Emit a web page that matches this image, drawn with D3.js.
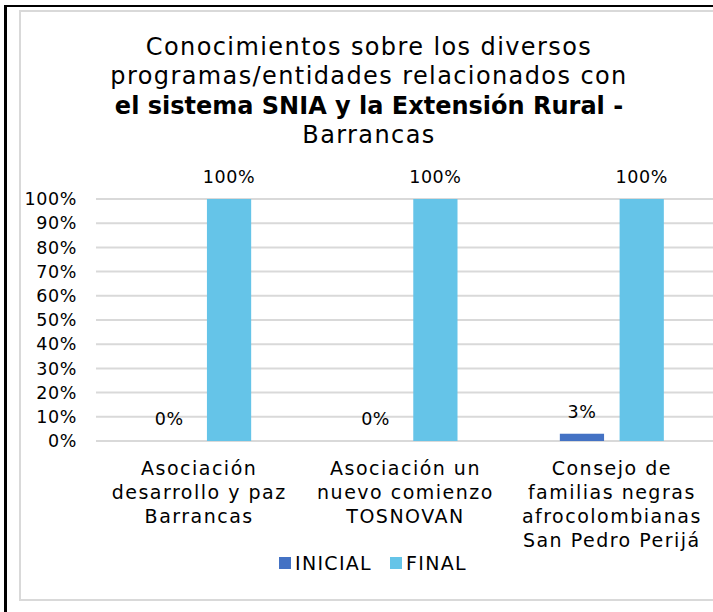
<!DOCTYPE html>
<html>
<head>
<meta charset="utf-8">
<script src="https://cdn.jsdelivr.net/npm/d3@7"></script>
<style>
  html, body { margin: 0; padding: 0; background: #fff; }
  svg { display: block; font-family: "DejaVu Sans", sans-serif; }
</style>
</head>
<body>
<div id="chart"></div>
<script>
const categories = [
  ['Asociación', 'desarrollo y paz', 'Barrancas'],
  ['Asociación un', 'nuevo comienzo', 'TOSNOVAN'],
  ['Consejo de', 'familias negras', 'afrocolombianas', 'San Pedro Perijá']
];
const seriesNames = ['INICIAL', 'FINAL'];
const inicial = [0, 0, 0.03];
const final = [1, 1, 1];
const yTicks = [0, 0.1, 0.2, 0.3, 0.4, 0.5, 0.6, 0.7, 0.8, 0.9, 1];
const titleLines = [
  { t: 'Conocimientos sobre los diversos', b: false },
  { t: 'programas/entidades relacionados con', b: false },
  { t: 'el sistema SNIA y la Extensión Rural -', b: true },
  { t: 'Barrancas', b: false }
];
const colors = ['#4472C4', '#65C4E8'];

const W = 713, H = 612;
const m = { t: 199, r: -2, b: 171, l: 96 };
const FS = 17.5;
const svg = d3.select('#chart').append('svg').attr('width', W).attr('height', H);

// frame
svg.append('rect').attr('x', 20).attr('y', 11).attr('width', 720).attr('height', 589)
  .attr('fill', 'none').attr('stroke', '#d9d9d9').attr('stroke-width', 2);
svg.append('line').attr('x1', 5.5).attr('x2', 5.5).attr('y1', 5).attr('y2', H).attr('stroke', '#000').attr('stroke-width', 3);
svg.append('line').attr('x1', 4).attr('x2', W).attr('y1', 6).attr('y2', 6).attr('stroke', '#000').attr('stroke-width', 2);

// title
svg.append('g').selectAll('text').data(titleLines).join('text')
  .attr('x', 369).attr('y', (d, i) => 55 + i * 29.3)
  .attr('text-anchor', 'middle').attr('font-size', 24)
  .attr('font-weight', d => d.b ? 700 : 400).attr('fill', '#000')
  .attr('letter-spacing', d => d.b ? 0 : 1.4)
  .text(d => d.t);

const x0 = d3.scaleBand().domain(d3.range(categories.length)).range([m.l, W - m.r]);
const x1 = d3.scaleBand().domain(seriesNames).range([x0.bandwidth() / 2 - 52, x0.bandwidth() / 2 + 52]).paddingInner(0.26);
const y = d3.scaleLinear().domain([0, 1]).range([H - m.b, m.t]);

// grid
svg.append('g').selectAll('line').data(yTicks).join('line')
  .attr('x1', m.l).attr('x2', W).attr('y1', d => y(d)).attr('y2', d => y(d))
  .attr('stroke', '#d9d9d9').attr('stroke-width', 2);

// y axis labels
const yAxis = svg.append('g').attr('transform', `translate(${m.l - 19},0)`)
  .call(d3.axisLeft(y).tickValues(yTicks).tickFormat(d3.format('.0%')).tickSize(0).tickPadding(0));
yAxis.select('.domain').remove();
yAxis.selectAll('text').attr('font-size', FS).attr('fill', '#000')
  .attr('font-family', '"DejaVu Sans", sans-serif').attr('letter-spacing', 0.6);

const data = seriesNames.map((s, si) => ({ s, vals: si === 0 ? inicial : final }));
const g = svg.append('g');
data.forEach((ser, si) => {
  const grp = g.append('g').attr('fill', colors[si]);
  grp.selectAll('rect').data(ser.vals).join('rect')
    .attr('x', (d, i) => x0(i) + x1(ser.s))
    .attr('width', x1.bandwidth())
    .attr('y', d => y(d)).attr('height', d => y(0) - y(d));
  grp.selectAll('text').data(ser.vals).join('text')
    .attr('x', (d, i) => x0(i) + x1(ser.s) + x1.bandwidth() / 2)
    .attr('y', d => y(d) - 16)
    .attr('text-anchor', 'middle').attr('font-size', FS).attr('fill', '#000')
    .attr('letter-spacing', 0.6)
    .text(d => d3.format('.0%')(d));
});

// category labels
svg.append('g').selectAll('text').data(categories).join('text')
  .attr('text-anchor', 'middle').attr('font-size', 19).attr('fill', '#000')
  .attr('letter-spacing', 1.5)
  .attr('transform', (d, i) => `translate(${x0(i) + x0.bandwidth() / 2},0)`)
  .selectAll('tspan').data(d => d).join('tspan')
  .attr('x', 0).attr('y', (d, i) => 475 + i * 24)
  .text(d => d);

// legend
const legX = [279, 390];
const leg = svg.append('g').selectAll('g').data(seriesNames).join('g')
  .attr('transform', (d, i) => `translate(${legX[i]},557)`);
leg.append('rect').attr('width', 12).attr('height', 12).attr('fill', (d, i) => colors[i]);
leg.append('text').attr('x', 16).attr('y', 13).attr('font-size', 19).attr('fill', '#000')
  .attr('letter-spacing', 1.3).text(d => d);
</script>
</body>
</html>
